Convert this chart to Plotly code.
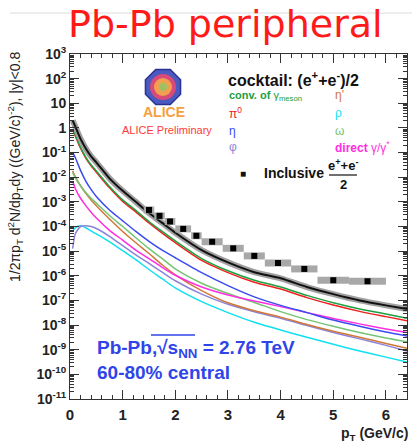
import math
import plotly.graph_objects as go

# ---------------- data ----------------
pt = [0.05, 0.1, 0.2, 0.3, 0.4, 0.5, 0.75, 1.0, 1.25, 1.5, 1.75, 2.0, 2.5, 3.0, 3.5, 4.0, 4.5, 5.0, 5.5, 6.0, 6.4]

cocktail_total = [2.0, 1.15, 0.36, 0.145, 0.07, 0.04, 9.0e-3, 2.8e-3, 1.0e-3, 3.5e-4, 1.4e-4, 5.6e-5, 1.1e-5,
                  3.5e-6, 1.4e-6, 7.9e-7, 3.5e-7, 1.8e-7, 1.0e-7, 6.3e-8, 4.5e-8]
conv_gamma = [0.9, 0.52, 0.166, 0.066, 0.032, 0.018, 4.2e-3, 1.2e-3, 4.5e-4, 1.6e-4, 6.3e-5, 2.6e-5, 5.0e-6,
              1.6e-6, 6.6e-7, 3.5e-7, 1.6e-7, 8.0e-8, 4.5e-8, 2.8e-8, 1.9e-8]
pi0 = [0.85, 0.47, 0.15, 0.06, 0.029, 0.016, 3.7e-3, 1.05e-3, 3.9e-4, 1.4e-4, 5.4e-5, 2.2e-5, 4.2e-6,
       1.35e-6, 5.5e-7, 2.9e-7, 1.3e-7, 6.5e-8, 3.6e-8, 2.2e-8, 1.5e-8]
eta = [0.105, 0.063, 0.019, 7.0e-3, 3.2e-3, 1.66e-3, 4.7e-4, 1.7e-4, 6.3e-5, 2.5e-5, 1.1e-5, 5.4e-6, 1.35e-6,
       4.0e-7, 1.4e-7, 6.3e-8, 3.2e-8, 1.6e-8, 8.9e-9, 5.2e-9, 3.6e-9]
etaprime = [0.018, 0.0105, 4.5e-3, 2.2e-3, 1.2e-3, 7.0e-4, 2.0e-4, 6.3e-5, 2.2e-5, 8.0e-6, 2.8e-6, 1.1e-6, 2.5e-7,
            8.0e-8, 3.8e-8, 2.1e-8, 1.05e-8, 5.6e-9, 3.2e-9, 1.8e-9, 1.15e-9]
omega = [0.0158, 9.5e-3, 4.5e-3, 2.4e-3, 1.4e-3, 8.9e-4, 2.8e-4, 1.0e-4, 3.5e-5, 1.26e-5, 5.0e-6, 1.9e-6, 5.0e-7,
         1.9e-7, 8.3e-8, 3.5e-8, 1.66e-8, 8.9e-9, 5.0e-9, 3.0e-9, 2.1e-9]
direct = [7.0e-3, 3.5e-3, 1.4e-3, 7.0e-4, 3.8e-4, 2.2e-4, 7.0e-5, 2.8e-5, 1.1e-5, 5.0e-6, 2.2e-6, 1.05e-6, 3.5e-7,
          1.66e-7, 9.5e-8, 5.6e-8, 3.2e-8, 1.86e-8, 1.12e-8, 7.0e-9, 5.0e-9]
phi = [1.26e-5, 5.0e-5, 1.0e-4, 1.07e-4, 1.0e-4, 8.3e-5, 4.0e-5, 1.66e-5, 7.0e-6, 3.2e-6, 1.4e-6, 6.3e-7, 1.8e-7,
       7.0e-8, 3.5e-8, 1.9e-8, 9.5e-9, 5.0e-9, 2.75e-9, 1.5e-9, 8.9e-10]
rho = [6.3e-5, 8.9e-5, 1.07e-4, 8.9e-5, 6.6e-5, 5.0e-5, 2.4e-5, 1.05e-5, 4.5e-6, 1.8e-6, 7.6e-7, 3.2e-7, 8.9e-8,
       3.2e-8, 1.3e-8, 6.3e-9, 3.2e-9, 1.66e-9, 8.9e-10, 5.0e-10, 3.2e-10]

incl_pt = [1.5, 1.7, 1.9, 2.15, 2.4, 2.7, 3.1, 3.5, 3.95, 4.45, 5.0, 5.65]
incl_halfwidth = [0.1, 0.1, 0.1, 0.15, 0.1, 0.2, 0.2, 0.2, 0.25, 0.25, 0.3, 0.35]
incl_val = [4.7e-4, 2.7e-4, 1.6e-4, 8.0e-5, 4.2e-5, 2.4e-5, 1.3e-5, 6.4e-6, 3.3e-6, 1.9e-6, 6.6e-7, 6.0e-7]

y_exponents = list(range(-11, 4))
x_ticks = [0, 1, 2, 3, 4, 5, 6]

# ---------------- geometry helpers (pixel -> paper) ----------------
W, H = 412, 443
L, R, T, B = 70, 407, 54, 399


def px(x):
    return (x - L) / (R - L)


def py(y):
    return (B - y) / (B - T)


fig = go.Figure()

curves = [
    (rho, "#10e0f0"),
    (phi, "#8c84d8"),
    (etaprime, "#d0783a"),
    (omega, "#74c474"),
    (direct, "#ff2ee0"),
    (eta, "#3a4cf0"),
    (pi0, "#f02020"),
    (conv_gamma, "#20a040"),
]
for vals, col in curves:
    fig.add_trace(go.Scatter(x=pt, y=vals, mode="lines",
                             line=dict(color=col, width=1.5, shape="spline", smoothing=0.6),
                             hoverinfo="skip"))

# total cocktail with grey band
fig.add_trace(go.Scatter(x=pt, y=cocktail_total, mode="lines",
                         line=dict(color="#a0a0a0", width=6, shape="spline", smoothing=0.6)))
fig.add_trace(go.Scatter(x=pt, y=cocktail_total, mode="lines",
                         line=dict(color="#111111", width=2, shape="spline", smoothing=0.6)))

# inclusive data
fig.add_trace(go.Scatter(x=incl_pt, y=incl_val, mode="markers",
                         marker=dict(symbol="square", size=6, color="black"),
                         error_x=dict(type="data", array=incl_halfwidth, symmetric=True,
                                      color="#a8a8a8", thickness=7, width=0)))

# ---------------- axes ----------------
y_tickvals = [10.0 ** k for k in y_exponents]
y_ticktext = []
for k in y_exponents:
    if k == 0:
        y_ticktext.append("1")
    elif k == 1:
        y_ticktext.append("10")
    else:
        y_ticktext.append("10<sup>%d</sup>" % k)
y_minor = [m * 10.0 ** k for k in y_exponents[:-1] for m in range(2, 10)]
x_minor = [round(i * 0.2, 2) for i in range(0, 33) if abs(i * 0.2 - round(i * 0.2)) > 1e-6]

axis_col = "#333333"
fig.update_xaxes(range=[0, 6.4], tickvals=x_ticks, ticks="inside", ticklen=9, tickwidth=1,
                 tickcolor=axis_col, showline=True, linecolor=axis_col, linewidth=1, mirror="allticks",
                 showgrid=False, zeroline=False,
                 tickfont=dict(family="Liberation Sans", size=15, color="#222", weight="bold"),
                 ticklabelstandoff=2,
                 minor=dict(tickvals=x_minor, ticks="inside", ticklen=4, tickcolor=axis_col, showgrid=False))
fig.update_yaxes(type="log", range=[-11, 3], tickvals=y_tickvals, ticktext=y_ticktext, ticks="inside",
                 ticklen=9, tickwidth=1, tickcolor=axis_col, showline=True, linecolor=axis_col, linewidth=1,
                 mirror="allticks", showgrid=False, zeroline=False,
                 tickfont=dict(family="Liberation Sans", size=14, color="#222", weight="bold"),
                 minor=dict(tickvals=y_minor, ticks="inside", ticklen=4, tickcolor=axis_col, showgrid=False))

# ---------------- text ----------------
ann = []


def add_text(text, x, y, size, color, xanchor="left", yanchor="middle", bold=False, angle=0,
             family="Liberation Sans"):
    ann.append(dict(text=text, x=px(x), y=py(y), xref="paper", yref="paper", showarrow=False,
                    xanchor=xanchor, yanchor=yanchor, textangle=angle,
                    font=dict(family=family, size=size, color=color, weight="bold" if bold else "normal")))


add_text("Pb-Pb peripheral", 225, 24, 38, "#ff1a1a", xanchor="center", family="DejaVu Sans")
add_text("1/2πp<sub>T</sub> d<sup>2</sup>N/dp<sub>T</sub>dy ((GeV/c)<sup>-2</sup>), |y|&lt;0.8",
         15, 167, 14, "#222", xanchor="center", angle=-90)
add_text("<b>p<sub>T</sub> (GeV/c)</b>", 410, 434, 14, "#222", xanchor="right")

add_text("cocktail: (e<sup>+</sup>+e<sup>-</sup>)/2", 226, 79, 16, "#111", bold=True)
add_text("<b>conv. of</b> γ<sub>meson</sub>", 227, 96, 11, "#20a040")
add_text("η'", 333, 95, 12, "#d0783a")
add_text("π<sup>0</sup>", 227, 113, 12, "#f02020")
add_text("ρ", 333, 113, 12, "#10e0f0")
add_text("η", 227, 131, 12, "#3a4cf0")
add_text("ω", 333, 131, 12, "#74c474")
add_text("φ", 227, 147, 12, "#8c84d8")
add_text("<b>direct</b> γ/γ<sup>*</sup>", 333, 147, 12, "#ff2ee0")

add_text("■", 243, 173, 10, "#111", xanchor="center")
add_text("Inclusive", 262, 173, 14, "#111", bold=True)
add_text("e<sup>+</sup>+e<sup>-</sup>", 343, 165, 13, "#111", xanchor="center", bold=True)
add_text("2", 343, 184, 13, "#111", xanchor="center", bold=True)

add_text("ALICE", 164, 112, 14, "#f5a040", xanchor="center", bold=True)
add_text("ALICE Preliminary", 167, 130, 11, "#ff3a3a", xanchor="center")

add_text("Pb-Pb,√s<sub>NN</sub> = 2.76 TeV", 95, 349, 19, "#2f45e8", bold=True)
add_text("60-80% central", 95, 372, 19, "#2f45e8", bold=True)

fig.update_layout(annotations=ann)

# ---------------- decorations ----------------
shapes = []
shapes.append(dict(type="line", xref="paper", yref="paper", x0=px(10), x1=px(412), y0=py(13), y1=py(13),
                   line=dict(color="#dcdcdc", width=1)))
shapes.append(dict(type="line", xref="paper", yref="paper", x0=px(329), x1=px(357), y0=py(175), y1=py(175),
                   line=dict(color="#111", width=1.2)))
# ALICE logo: octagon + circles
cx, cy, r = 163, 87, 19
pts = []
for i in range(8):
    a = math.pi / 8 + i * math.pi / 4
    pts.append((px(cx + r * math.cos(a)), py(cy + r * math.sin(a))))
path = "M " + " L ".join("%f,%f" % p for p in pts) + " Z"
shapes.append(dict(type="path", xref="paper", yref="paper", path=path, fillcolor="#4a5ac0",
                   line=dict(color="#2a3490", width=1.5)))
for rad, col in [(13, "#d84a78"), (9, "#f0a050"), (4, "#a0c060")]:
    shapes.append(dict(type="circle", xref="paper", yref="paper", x0=px(cx - rad), x1=px(cx + rad),
                       y0=py(cy + rad), y1=py(cy - rad), fillcolor=col, line=dict(width=0)))
# overline of the square root
shapes.append(dict(type="line", xref="paper", yref="paper", x0=px(151), x1=px(195), y0=py(335), y1=py(335),
                   line=dict(color="#2f45e8", width=1.5)))
fig.update_layout(shapes=shapes)

fig.update_layout(width=W, height=H, margin=dict(l=L, r=W - R, t=T, b=H - B),
                  paper_bgcolor="white", plot_bgcolor="white", showlegend=False)

fig.write_html("out.html", config={"displayModeBar": False},
               post_script="document.body.style.margin='0px';")
